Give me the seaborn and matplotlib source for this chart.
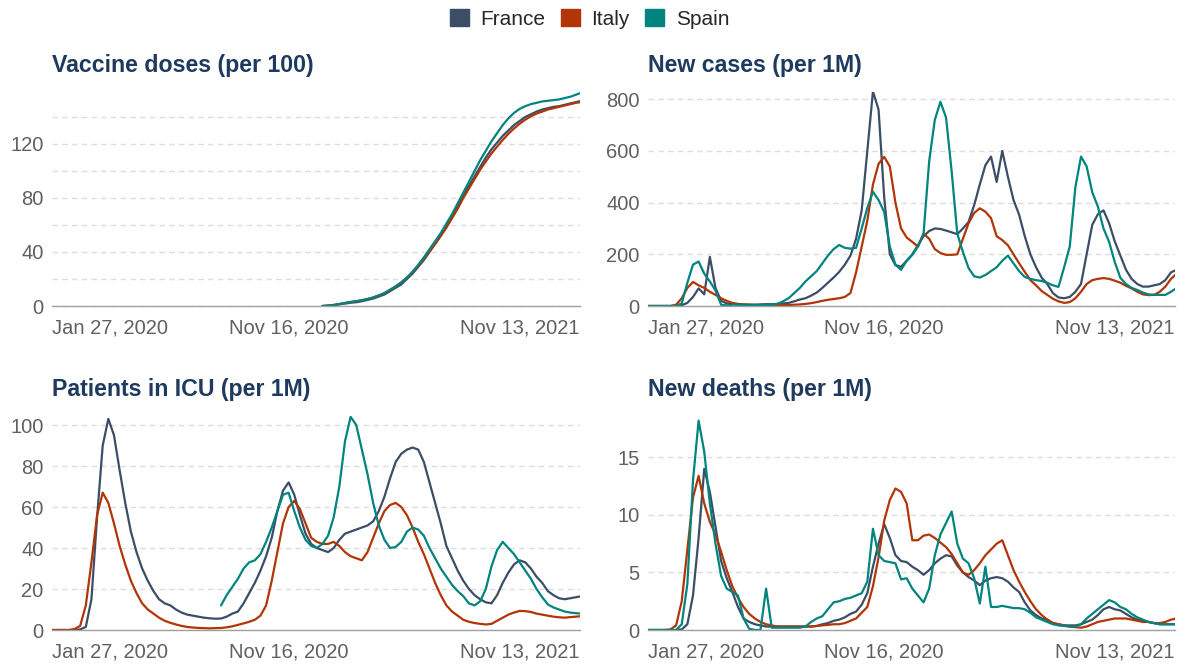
import numpy as np
import pandas as pd
import matplotlib.pyplot as plt
from matplotlib.patches import Patch
import seaborn as sns

paises = ["France", "Italy", "Spain"]
cores = ["#3c4e66", "#b13507", "#00847e"]

# uma amostra por semana, de 27 jan 2020 em diante
datas = pd.date_range("2020-01-27", periods=95, freq="7D")
ticks_x = ["2020-01-27", "2020-11-16", "2021-11-13"]
rotulos_x = ["Jan 27, 2020", "Nov 16, 2020", "Nov 13, 2021"]

# Vaccine doses (per 100)
vac_france = [np.nan] * 48 + [
    0, 0.2, 0.6, 1.2, 1.8, 2.4, 2.8, 3.5, 4.5, 5.5, 7, 8.5, 11, 13.5, 16,
    20, 24, 29, 34, 40, 46, 52, 59, 66, 74, 82, 89, 96, 103, 110,
    116, 121, 126, 130, 134, 137, 140, 142, 144, 145.5, 146.5, 147.5, 148, 149, 150,
    151, 152]
vac_italy = [np.nan] * 48 + [
    0, 0.3, 0.8, 1.5, 2.3, 3, 3.6, 4.3, 5.2, 6.3, 7.8, 9.5, 12, 14.5, 17.5,
    21, 25, 30, 35, 40.5, 46, 52, 58, 65, 72, 80, 87, 94, 101, 107,
    113, 118, 123, 127.5, 131.5, 135, 138, 140.5, 142.5, 144, 145.5, 146.5, 147.5, 148.5, 149.5,
    150.5, 151]
vac_spain = [np.nan] * 48 + [
    0, 0.2, 0.7, 1.4, 2.2, 2.9, 3.5, 4.2, 5.2, 6.3, 7.8, 9.5, 12, 14.5, 17.5,
    21, 25.5, 30.5, 36, 42, 48, 54, 61, 68, 76, 84, 92, 100, 108, 115,
    122, 128, 134, 139, 143, 146, 148, 149.5, 150.5, 151.5, 152, 152.5, 153, 154, 155,
    156.5, 158]

# New cases (per 1M)
casos_france = [
    0, 0, 0, 0, 0, 0.5, 3, 12, 35, 68, 45, 190, 70, 20, 10,
    8, 6, 5, 5, 5, 6, 7, 7, 8, 10, 12, 18, 25, 30, 40,
    52, 70, 90, 110, 132, 160, 195, 260, 370, 600, 830, 760, 420, 200, 158,
    152, 175, 200, 235, 270, 290, 300, 298, 292, 285, 278, 300, 325, 390, 470,
    545, 578, 480, 600, 500, 410, 353, 270, 200, 150, 110, 85, 50, 33, 30,
    35, 55, 85, 200, 314, 355, 370, 320, 250, 195, 140, 105, 85, 75, 75,
    80, 85, 100, 130, 140]
casos_italy = [
    0, 0, 0, 0, 0, 5, 30, 70, 93, 80, 70, 55, 43, 30, 20,
    12, 8, 6, 5, 4, 4, 4, 4, 4, 4, 4, 5, 6, 8, 11,
    15, 20, 24, 27, 30, 35, 50, 130, 230, 330, 470, 550, 577, 540, 400,
    300, 265, 248, 230, 280, 260, 220, 205, 198, 198, 200, 260, 320, 360, 378,
    365, 340, 270, 255, 235, 200, 165, 132, 100, 80, 58, 43, 28, 18, 12,
    15, 30, 55, 85, 100, 105, 108, 105, 98, 90, 78, 68, 55, 45, 42,
    43, 55, 75, 105, 125]
casos_spain = [
    0, 0, 0, 0, 0, 0, 10, 90, 160, 172, 125, 95, 60, 5, 2,
    5, 5, 5, 4, 4, 4, 4, 5, 8, 18, 30, 50, 70, 95, 115,
    135, 165, 195, 220, 236, 225, 222, 225, 300, 380, 442, 410, 364, 230, 160,
    140, 175, 198, 230, 280, 560, 720, 790, 729, 520, 280, 209, 147, 115, 110,
    120, 135, 150, 175, 195, 165, 135, 112, 105, 100, 97, 90, 80, 74, 150,
    230, 460, 578, 540, 440, 385, 300, 248, 170, 109, 85, 70, 62, 52, 45,
    43, 43, 43, 55, 70]

# Patients in ICU (per 1M)
uti_france = [
    0, 0, 0, 0, 0, 0.3, 1.5, 15, 55, 90, 103, 95, 78, 62, 48,
    38, 30, 24, 19, 15, 13, 12, 10, 8.5, 7.5, 7, 6.5, 6, 5.7, 5.5,
    5.6, 6.5, 8, 9, 13, 18, 23, 29, 36, 45, 58, 68, 72, 66, 56,
    47, 42, 40, 39, 38, 40, 44, 47, 48, 49, 50, 51, 53, 58, 65,
    74, 82, 86, 88, 89, 88, 82, 72, 62, 52, 41, 35, 29, 24, 20,
    17, 15, 13.5, 13, 17, 23, 28, 32, 34, 33, 30, 26, 23, 19, 17,
    15.5, 15, 15.5, 16, 16.5]
uti_italy = [
    0, 0, 0, 0, 0.5, 2, 12, 33, 56, 67, 62, 52, 41, 32, 24,
    18, 13, 10, 8, 6, 4.5, 3.5, 2.7, 2, 1.5, 1.2, 1, 0.9, 0.8, 0.9,
    1, 1.3, 1.8, 2.5, 3.2, 4, 5, 7, 12, 24, 38, 52, 60, 63, 59,
    52, 45, 43, 42, 42, 43, 41, 38, 36, 35, 34, 38, 45, 52, 58,
    61, 62, 60, 56, 50, 43, 37, 30, 23, 17, 12, 9, 7, 5, 4,
    3.4, 3, 2.7, 3, 4.5, 6, 7.5, 8.5, 9.3, 9.2, 8.8, 8, 7.5, 7, 6.5,
    6.2, 6, 6.3, 6.5, 6.8]
uti_spain = [np.nan] * 30 + [
    12, 17, 21, 25, 30, 33, 34, 37, 43, 50, 58, 66, 67, 58, 50,
    44, 41, 40, 42, 46, 55, 70, 92, 104, 100, 88, 76, 62, 51, 44,
    40, 40.5, 43, 48, 50, 49, 46, 40, 35, 30, 26, 22, 19, 16.5, 13,
    12, 14, 20, 31, 39, 43, 40, 37, 33, 29, 25, 20, 16, 12.5, 11,
    10, 9, 8.5, 8.2, 8]

# New deaths (per 1M)
mortes_france = [
    0, 0, 0, 0, 0, 0, 0.05, 0.5, 3, 8, 14, 12, 9, 6, 4.5,
    3.3, 2, 1, 0.7, 0.5, 0.4, 0.3, 0.3, 0.3, 0.3, 0.3, 0.3, 0.3, 0.3, 0.3,
    0.35, 0.5, 0.6, 0.8, 0.9, 1.1, 1.4, 1.6, 2.2, 3.2, 5.5, 7.5, 9.2, 8, 6.5,
    6, 5.9, 5.5, 5.2, 4.8, 5.2, 5.8, 6.2, 6.5, 6.4, 5.6, 5, 4.6, 4.3, 3.9,
    4.3, 4.5, 4.6, 4.5, 4.2, 3.7, 3.3, 2.4, 1.7, 1.3, 1, 0.9, 0.6, 0.5, 0.4,
    0.4, 0.4, 0.5, 0.7, 0.9, 1.3, 1.8, 2, 1.8, 1.7, 1.4, 1.1, 0.9, 0.8, 0.7,
    0.6, 0.5, 0.5, 0.5, 0.5]
mortes_italy = [
    0, 0, 0, 0, 0.05, 0.4, 2.5, 7, 11.5, 13.4, 11, 9.4, 8.3, 6.8, 5.2,
    3.8, 2.8, 2, 1.4, 1, 0.7, 0.5, 0.4, 0.3, 0.3, 0.3, 0.3, 0.3, 0.3, 0.3,
    0.35, 0.4, 0.45, 0.5, 0.5, 0.6, 0.8, 1, 1.5, 2, 3.8, 6.3, 9.5, 11.3, 12.3,
    12, 11, 7.8, 7.8, 8.2, 8.3, 8, 7.6, 7.2, 6.6, 5.8, 5, 4.8, 5.2, 5.8,
    6.5, 7, 7.5, 7.8, 6.5, 5.2, 4.2, 3.3, 2.5, 1.8, 1.3, 0.9, 0.6, 0.5, 0.4,
    0.3, 0.25, 0.2, 0.3, 0.5, 0.7, 0.8, 0.9, 1, 1, 1, 0.9, 0.8, 0.7, 0.7,
    0.6, 0.6, 0.7, 0.9, 1]
mortes_spain = [
    0, 0, 0, 0, 0, 0, 0.5, 4, 13, 18.2, 15.5, 11, 7.5, 4.7, 3.6,
    3.3, 3, 1, 0.1, 0, 0, 3.6, 0.2, 0.2, 0.2, 0.2, 0.2, 0.2, 0.3, 0.7,
    1, 1.2, 1.8, 2.4, 2.5, 2.7, 2.8, 3, 3.2, 4.2, 8.8, 6.5, 6, 5.9, 5.8,
    4.4, 4.5, 3.6, 3, 2.4, 3.6, 6.5, 8.3, 9.3, 10.3, 7.5, 6.2, 5.8, 4.5, 2.3,
    5.5, 2, 2, 2.1, 2, 1.9, 1.9, 1.8, 1.5, 1.1, 0.9, 0.7, 0.5, 0.4, 0.35,
    0.3, 0.3, 0.5, 1, 1.4, 1.8, 2.2, 2.6, 2.4, 2, 1.8, 1.4, 1.1, 0.9, 0.7,
    0.6, 0.5, 0.5, 0.5, 0.5]

paleta = dict(zip(paises, cores))
cor_titulo = "#1f3a5f"
cor_texto = "#606060"


def desenhar_painel(fig, caixa, titulo, series, ymax, grade, rotulos):
    ax = fig.add_axes(caixa)

    df = pd.DataFrame({"data": datas, "France": series[0], "Italy": series[1], "Spain": series[2]})
    df = df.melt(id_vars="data", var_name="pais", value_name="valor").dropna()

    sns.lineplot(data=df, x="data", y="valor", hue="pais", palette=paleta,
                 linewidth=1.6, legend=False, ax=ax)

    ax.set_xlim(pd.Timestamp(ticks_x[0]), pd.Timestamp(ticks_x[-1]))
    ax.set_ylim(0, ymax)
    ax.set_xlabel("")
    ax.set_ylabel("")

    # eixo x com so tres datas
    ax.set_xticks(pd.to_datetime(ticks_x))
    ax.set_xticklabels(rotulos_x)
    for lab, ha in zip(ax.get_xticklabels(), ["left", "center", "right"]):
        lab.set_ha(ha)

    ax.set_yticks(grade)
    ax.set_yticklabels([str(v) if v in rotulos else "" for v in grade])

    for lado in ["left", "top", "right"]:
        ax.spines[lado].set_visible(False)
    ax.spines["bottom"].set_color("#a0a0a0")
    ax.spines["bottom"].set_linewidth(1)

    ax.set_axisbelow(True)
    ax.yaxis.grid(True, linestyle=(0, (4, 3)), color="#dddddd", linewidth=1)
    ax.xaxis.grid(False)
    ax.tick_params(axis="y", length=0, labelsize=14.5, labelcolor=cor_texto, pad=6)
    ax.tick_params(axis="x", length=5, width=1, color="#a0a0a0", labelsize=14.5,
                   labelcolor=cor_texto, pad=4)

    pos = ax.get_position()
    fig.text(pos.x0, pos.y1 + 0.04, titulo, fontsize=16.7, fontweight="bold",
             color=cor_titulo, ha="left", va="center")
    return ax


sns.set_theme(style="white")
plt.rcParams["font.family"] = ["Liberation Sans", "DejaVu Sans"]

fig = plt.figure(figsize=(11.89, 6.64), dpi=100)

cima = 1 - 306 / 664
baixo = 1 - 630 / 664

desenhar_painel(fig, [52 / 1189, cima, 528 / 1189, 214 / 664], "Vaccine doses (per 100)",
                [vac_france, vac_italy, vac_spain], 158.5,
                [0, 20, 40, 60, 80, 100, 120, 140], [0, 40, 80, 120])
desenhar_painel(fig, [648 / 1189, cima, 527 / 1189, 214 / 664], "New cases (per 1M)",
                [casos_france, casos_italy, casos_spain], 828,
                [0, 200, 400, 600, 800], [0, 200, 400, 600, 800])
desenhar_painel(fig, [52 / 1189, baixo, 528 / 1189, 214 / 664], "Patients in ICU (per 1M)",
                [uti_france, uti_italy, uti_spain], 104.4,
                [0, 20, 40, 60, 80, 100], [0, 20, 40, 60, 80, 100])
desenhar_painel(fig, [648 / 1189, baixo, 527 / 1189, 214 / 664], "New deaths (per 1M)",
                [mortes_france, mortes_italy, mortes_spain], 18.6,
                [0, 5, 10, 15], [0, 5, 10, 15])

# legenda no topo com quadrados coloridos
alcas = [Patch(facecolor=c, edgecolor=c, label=p) for p, c in zip(paises, cores)]
fig.legend(handles=alcas, loc="center", bbox_to_anchor=(0.496, 1 - 19 / 664), ncol=3,
           frameon=False, fontsize=15, handlelength=0.9, handleheight=0.9,
           handletextpad=0.55, columnspacing=0.75)

fig.savefig("out.png", dpi=100)
